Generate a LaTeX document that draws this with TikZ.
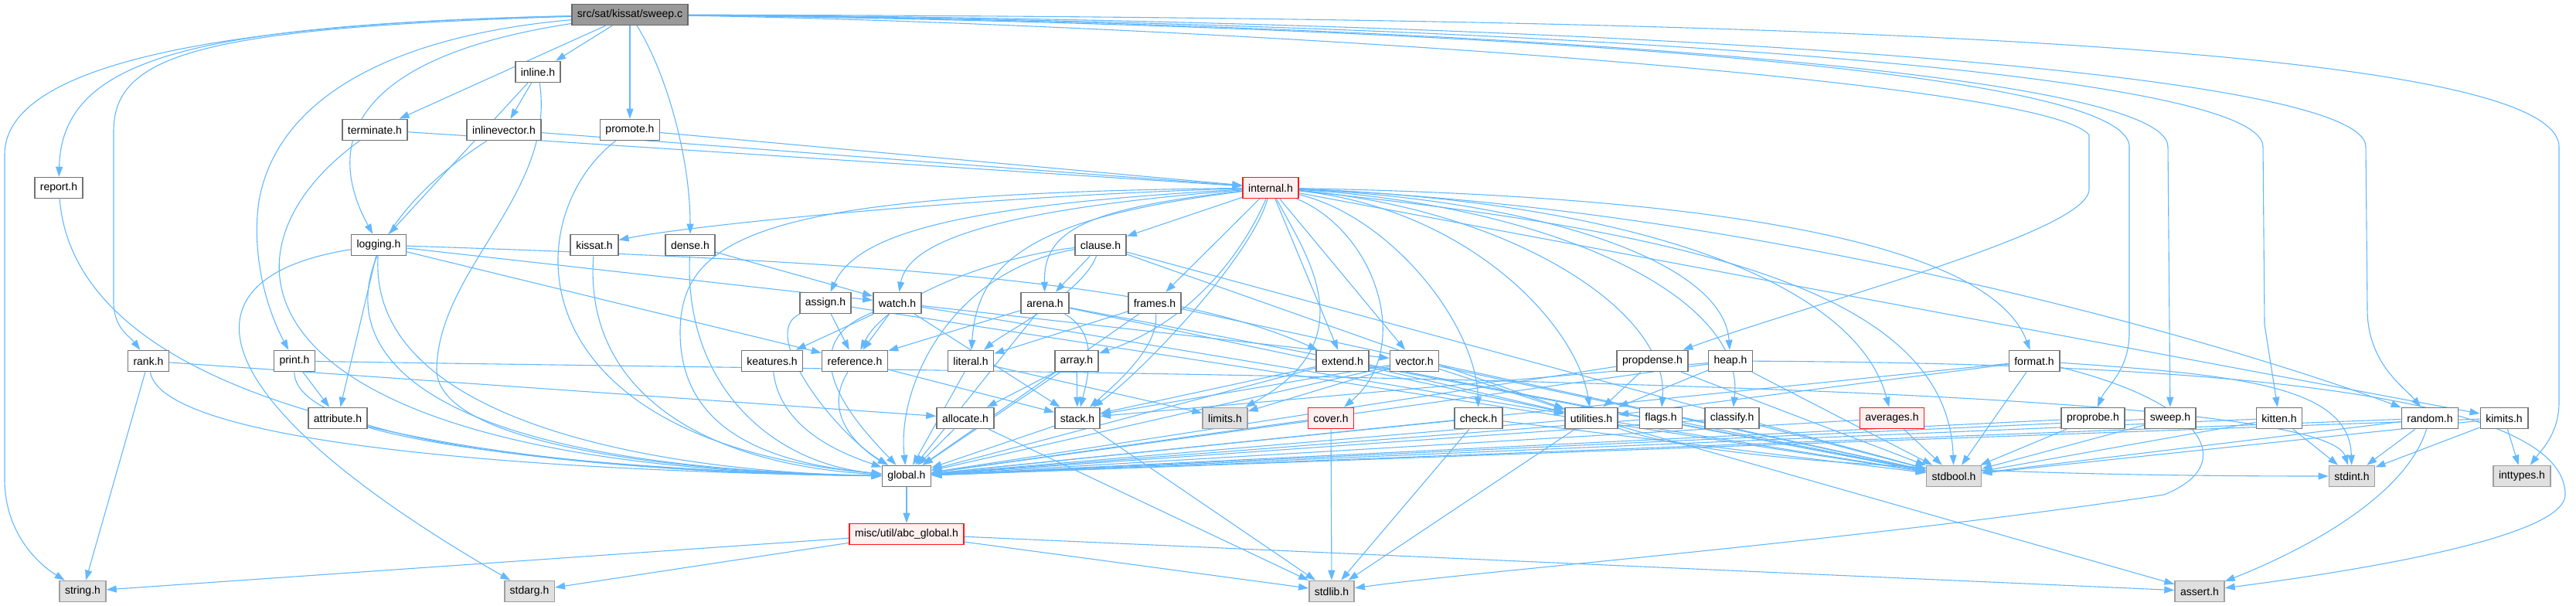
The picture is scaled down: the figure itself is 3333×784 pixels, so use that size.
\documentclass[tikz,border=0pt]{standalone}
\usepackage{fontspec}
\setmainfont{Liberation Sans}
\usetikzlibrary{arrows.meta}
\pgfdeclarelayer{edgelayer}
\pgfsetlayers{edgelayer,main}
\definecolor{edgeblue}{RGB}{99,184,255}
\definecolor{sysfill}{RGB}{224,224,224}
\definecolor{trfill}{RGB}{255,240,240}
\definecolor{rootfill}{RGB}{153,153,153}
\tikzset{
  nd/.style={draw=black!55, line width=1.6pt, fill=white, minimum height=27pt, inner xsep=7pt, inner ysep=0pt, font=\fontsize{14}{16}\selectfont, text=black},
  sysn/.style={nd, fill=sysfill, draw=black!38},
  trn/.style={nd, fill=trfill, draw=red!90},
  rootn/.style={nd, fill=rootfill, draw=black!60},
  e/.style={draw=edgeblue, line width=1.1pt, -{Triangle[length=13pt,width=9pt]}}
}
\begin{document}
\begin{tikzpicture}[x=1pt,y=-1pt]
\useasboundingbox (0,0) rectangle (3333,784);
% nodes
\node[rootn] (sweepc) at (815,19) {src/sat/kissat/sweep.c};
\node[nd] (inline) at (696,93) {inline.h};
\node[nd] (terminate) at (485,168) {terminate.h};
\node[nd] (inlinevector) at (652,168) {inlinevector.h};
\node[nd] (promote) at (815,168) {promote.h};
\node[nd] (report) at (76,243) {report.h};
\node[trn] (internal) at (1644,243) {internal.h};
\node[nd] (logging) at (490,317) {logging.h};
\node[nd] (kissat) at (769,317) {kissat.h};
\node[nd] (dense) at (893,317) {dense.h};
\node[nd] (clause) at (1424,317) {clause.h};
\node[nd] (assign) at (1068,392) {assign.h};
\node[nd] (watch) at (1161,392) {watch.h};
\node[nd] (arena) at (1352,392) {arena.h};
\node[nd] (frames) at (1494,392) {frames.h};
\node[nd] (rank) at (192,467) {rank.h};
\node[nd] (print) at (381,467) {print.h};
\node[nd] (keatures) at (999,467) {keatures.h};
\node[nd] (reference) at (1106,467) {reference.h};
\node[nd] (literal) at (1256,467) {literal.h};
\node[nd] (array) at (1393,467) {array.h};
\node[nd] (extend) at (1737,467) {extend.h};
\node[nd] (vector) at (1830,467) {vector.h};
\node[nd] (propdense) at (2138,467) {propdense.h};
\node[nd] (heap) at (2239,467) {heap.h};
\node[nd] (format) at (2632,467) {format.h};
\node[nd] (attribute) at (437,541) {attribute.h};
\node[nd] (allocate) at (1249,541) {allocate.h};
\node[nd] (stack) at (1394,541) {stack.h};
\node[sysn] (limits) at (1585,541) {limits.h};
\node[trn] (cover) at (1722,541) {cover.h};
\node[nd] (check) at (1913,541) {check.h};
\node[nd] (utilities) at (2059,541) {utilities.h};
\node[nd] (flags) at (2149,541) {flags.h};
\node[nd] (classify) at (2241,541) {classify.h};
\node[trn] (averages) at (2448,541) {averages.h};
\node[nd] (proprobe) at (2708,541) {proprobe.h};
\node[nd] (sweeph) at (2808,541) {sweep.h};
\node[nd] (kitten) at (2949,541) {kitten.h};
\node[nd] (random) at (3144,541) {random.h};
\node[nd] (kimits) at (3240,541) {kimits.h};
\node[nd] (global) at (1173,616) {global.h};
\node[sysn] (stdbool) at (2528,616) {stdbool.h};
\node[sysn] (stdint) at (3043,616) {stdint.h};
\node[sysn] (inttypes) at (3263,616) {inttypes.h};
\node[trn] (abcglobal) at (1173,691) {misc/util/abc\_global.h};
\node[sysn] (string) at (107,765) {string.h};
\node[sysn] (stdarg) at (685,765) {stdarg.h};
\node[sysn] (stdlib) at (1723,765) {stdlib.h};
\node[sysn] (assert) at (2846,765) {assert.h};
% helper coordinates
\coordinate (w1) at (6,200); \coordinate (w2) at (6,620);
\coordinate (w3) at (147,170); \coordinate (w4) at (147,390);
\coordinate (w5) at (335,260);
\coordinate (p1) at (2703,175); \coordinate (p2) at (2703,245);
\coordinate (p3) at (2755,190); \coordinate (p4) at (2755,430);
\coordinate (p5) at (2805,190);
\coordinate (p6) at (2928,190); \coordinate (p7) at (2930,420);
\coordinate (p8) at (3061,190); \coordinate (p9) at (3063,400);
\coordinate (p10) at (3311,190); \coordinate (p11) at (3311,520);
\coordinate (g1) at (880,430); \coordinate (g2) at (565,480);
\coordinate (h1) at (3319,640);
\coordinate (f1) at (2800,640);
\begin{pgfonlayer}{edgelayer}
% sweep.c edges
\draw[e] (sweepc) .. controls (300,30) and (6,80) .. (w1) -- (w2) .. controls (6,690) and (50,730) .. (string);
\draw[e] (sweepc) .. controls (250,32) and (80,75) .. (report);
\draw[e] (sweepc) .. controls (260,36) and (147,70) .. (w3) -- (w4) .. controls (147,425) and (168,435) .. (rank);
\draw[e] (sweepc) .. controls (520,45) and (360,120) .. (w5) .. controls (325,330) and (345,400) .. (print);
\draw[e] (sweepc) .. controls (480,70) and (410,170) .. (logging);
\draw[e] (sweepc) -- (terminate);
\draw[e] (sweepc) -- (inline);
\draw[e] (sweepc) -- (promote);
\draw[e] (sweepc) .. controls (860,90) and (893,200) .. (dense);
\draw[e] (sweepc) .. controls (1500,30) and (2650,100) .. (p1) -- (p2) .. controls (2703,300) and (2350,390) .. (propdense);
\draw[e] (sweepc) .. controls (1600,28) and (2755,70) .. (p3) -- (p4) .. controls (2755,480) and (2725,500) .. (proprobe);
\draw[e] (sweepc) .. controls (1700,26) and (2805,80) .. (p5) -- (sweeph);
\draw[e] (sweepc) .. controls (1800,26) and (2928,80) .. (p6) -- (p7) -- (kitten);
\draw[e] (sweepc) .. controls (1900,24) and (3061,80) .. (p8) -- (p9) .. controls (3063,470) and (3110,500) .. (random);
\draw[e] (sweepc) .. controls (2200,22) and (3311,50) .. (p10) -- (p11) .. controls (3311,560) and (3290,580) .. (inttypes);
% upper layer
\draw[e] (inline) -- (logging);
\draw[e] (inline) -- (inlinevector);
\draw[e] (inline) .. controls (720,250) and (565,350) .. (g2) .. controls (570,580) and (900,612) .. (global);
\draw[e] (inlinevector) -- (internal);
\draw[e] (inlinevector) .. controls (400,330) and (330,600) .. (global);
\draw[e] (terminate) -- (internal);
\draw[e] (terminate) .. controls (260,330) and (300,605) .. (global);
\draw[e] (promote) -- (internal);
\draw[e] (promote) .. controls (670,280) and (660,570) .. (global);
\draw[e] (report) .. controls (95,480) and (450,608) .. (global);
\draw[e] (rank) .. controls (210,575) and (700,610) .. (global);
\draw[e] (rank) -- (string);
\draw[e] (rank) -- (allocate);
\draw[e] (print) -- (attribute);
\draw[e] (print) .. controls (380,575) and (800,612) .. (global);
\draw[e] (print) .. controls (1500,485) and (3000,490) .. (stdint);
\draw[e] (logging) -- (attribute);
\draw[e] (logging) .. controls (475,560) and (900,612) .. (global);
\draw[e] (logging) .. controls (220,360) and (260,520) .. (stdarg);
\draw[e] (logging) -- (reference);
\draw[e] (logging) -- (watch);
\draw[e] (logging) .. controls (1200,340) and (1520,370) .. (extend);
\draw[e] (kissat) .. controls (755,500) and (900,600) .. (global);
\draw[e] (dense) .. controls (885,500) and (1000,600) .. (global);
\draw[e] (dense) -- (watch);
% internal.h
\draw[e] (internal) .. controls (1300,252) and (900,290) .. (kissat);
\draw[e] (internal) -- (clause);
\draw[e] (internal) .. controls (1250,265) and (1110,300) .. (assign);
\draw[e] (internal) .. controls (1300,270) and (1175,310) .. (watch);
\draw[e] (internal) .. controls (1400,270) and (1350,300) .. (arena);
\draw[e] (internal) -- (frames);
\draw[e] (internal) .. controls (1350,280) and (1265,330) .. (literal);
\draw[e] (internal) .. controls (1620,300) and (1560,410) .. (array);
\draw[e] (internal) -- (extend);
\draw[e] (internal) -- (vector);
\draw[e] (internal) .. controls (1620,330) and (1480,480) .. (stack);
\draw[e] (internal) .. controls (1690,330) and (1770,440) .. (limits);
\draw[e] (internal) .. controls (1780,300) and (1830,450) .. (cover);
\draw[e] (internal) .. controls (1800,280) and (1910,420) .. (check);
\draw[e] (internal) .. controls (1900,270) and (2040,420) .. (utilities);
\draw[e] (internal) .. controls (1950,270) and (2160,400) .. (flags);
\draw[e] (internal) .. controls (2000,265) and (2260,380) .. (classify);
\draw[e] (internal) .. controls (2000,260) and (2230,340) .. (heap);
\draw[e] (internal) .. controls (2100,260) and (2400,360) .. (averages);
\draw[e] (internal) .. controls (2300,255) and (2580,330) .. (format);
\draw[e] (internal) .. controls (2300,270) and (2900,450) .. (random);
\draw[e] (internal) -- (kimits);
\draw[e] (internal) .. controls (2200,300) and (2520,380) .. (stdbool);
\draw[e] (internal) .. controls (1000,250) and (880,300) .. (g1) .. controls (880,560) and (1000,600) .. (global);
% second layer
\draw[e] (clause) -- (arena);
\draw[e] (clause) .. controls (1400,380) and (1300,430) .. (literal);
\draw[e] (clause) .. controls (1300,330) and (1150,380) .. (reference);
\draw[e] (clause) .. controls (1230,350) and (1160,500) .. (global);
\draw[e] (clause) -- (utilities);
\draw[e] (clause) -- (stdbool);
\draw[e] (assign) -- (reference);
\draw[e] (assign) .. controls (980,430) and (1080,560) .. (global);
\draw[e] (assign) -- (stdbool);
\draw[e] (watch) -- (keatures);
\draw[e] (watch) -- (reference);
\draw[e] (watch) -- (vector);
\draw[e] (watch) -- (stack);
\draw[e] (watch) .. controls (1010,450) and (1120,560) .. (global);
\draw[e] (watch) -- (utilities);
\draw[e] (arena) -- (reference);
\draw[e] (arena) .. controls (1420,430) and (1410,480) .. (stack);
\draw[e] (arena) -- (global);
\draw[e] (arena) -- (utilities);
\draw[e] (arena) -- (stdbool);
\draw[e] (frames) -- (literal);
\draw[e] (frames) .. controls (1500,450) and (1440,500) .. (stack);
\draw[e] (frames) -- (global);
\draw[e] (frames) -- (stdbool);
\draw[e] (keatures) .. controls (1010,560) and (1100,590) .. (global);
\draw[e] (reference) .. controls (1060,540) and (1120,585) .. (global);
\draw[e] (reference) -- (stack);
\draw[e] (literal) -- (limits);
\draw[e] (literal) -- (global);
\draw[e] (array) -- (allocate);
\draw[e] (array) -- (stack);
\draw[e] (array) -- (global);
\draw[e] (extend) -- (stack);
\draw[e] (extend) -- (utilities);
\draw[e] (extend) -- (global);
\draw[e] (extend) -- (stdbool);
\draw[e] (vector) -- (stack);
\draw[e] (vector) -- (limits);
\draw[e] (vector) -- (utilities);
\draw[e] (vector) -- (global);
\draw[e] (vector) -- (stdbool);
\draw[e] (propdense) -- (global);
\draw[e] (propdense) -- (stdbool);
\draw[e] (propdense) -- (utilities);
\draw[e] (heap) -- (stack);
\draw[e] (heap) -- (utilities);
\draw[e] (heap) -- (global);
\draw[e] (heap) -- (stdbool);
\draw[e] (heap) .. controls (2800,470) and (3319,500) .. (h1) .. controls (3319,700) and (3000,745) .. (assert);
\draw[e] (format) -- (utilities);
\draw[e] (format) -- (global);
\draw[e] (format) .. controls (2900,485) and (3040,500) .. (stdint);
\draw[e] (format) .. controls (2850,520) and (2900,600) .. (f1) .. controls (2400,700) and (1900,740) .. (stdlib);
\draw[e] (format) -- (stdbool);
% third layer
\draw[e] (attribute) .. controls (600,590) and (900,612) .. (global);
\draw[e] (allocate) -- (global);
\draw[e] (allocate) -- (stdlib);
\draw[e] (stack) -- (global);
\draw[e] (stack) -- (stdlib);
\draw[e] (cover) -- (global);
\draw[e] (cover) -- (stdlib);
\draw[e] (check) -- (global);
\draw[e] (check) -- (stdlib);
\draw[e] (check) -- (stdbool);
\draw[e] (utilities) -- (global);
\draw[e] (utilities) -- (stdbool);
\draw[e] (utilities) -- (stdlib);
\draw[e] (utilities) -- (assert);
\draw[e] (utilities) .. controls (2250,612) and (2800,616) .. (stdint);
\draw[e] (flags) -- (global);
\draw[e] (flags) -- (stdbool);
\draw[e] (classify) -- (global);
\draw[e] (classify) -- (stdbool);
\draw[e] (averages) -- (global);
\draw[e] (averages) -- (stdbool);
\draw[e] (proprobe) -- (global);
\draw[e] (proprobe) -- (stdbool);
\draw[e] (sweeph) -- (global);
\draw[e] (sweeph) -- (stdbool);
\draw[e] (kitten) -- (global);
\draw[e] (kitten) -- (stdbool);
\draw[e] (kitten) -- (stdint);
\draw[e] (random) -- (global);
\draw[e] (random) -- (stdbool);
\draw[e] (random) -- (stdint);
\draw[e] (random) .. controls (3110,650) and (2960,720) .. (assert);
\draw[e] (kimits) -- (global);
\draw[e] (kimits) -- (stdbool);
\draw[e] (kimits) -- (stdint);
\draw[e] (kimits) -- (inttypes);
% bottom
\draw[e] (global) -- (abcglobal);
\draw[e] (abcglobal) -- (string);
\draw[e] (abcglobal) -- (stdarg);
\draw[e] (abcglobal) -- (stdlib);
\draw[e] (abcglobal) -- (assert);
\end{pgfonlayer}
\end{tikzpicture}
\end{document}
